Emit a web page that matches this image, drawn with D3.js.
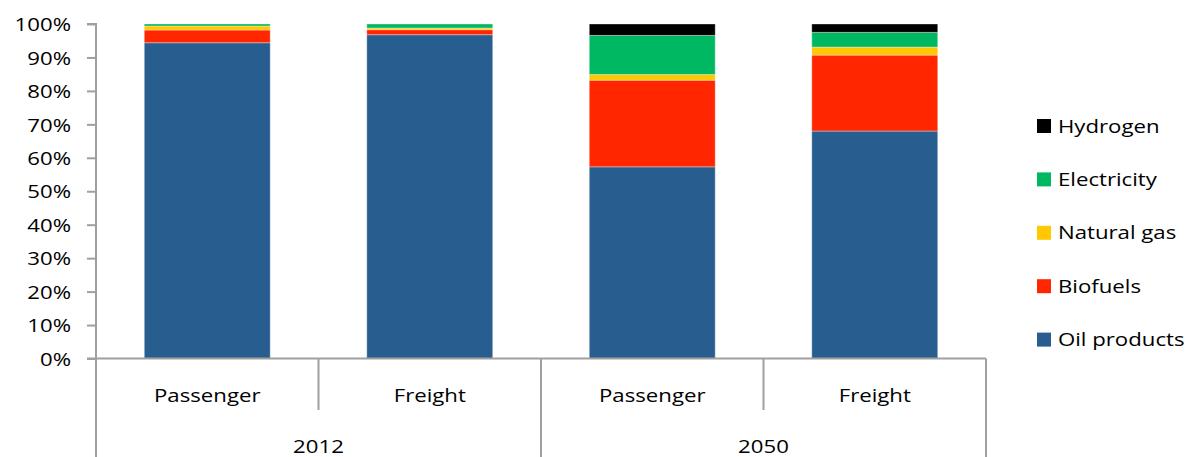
<!DOCTYPE html>
<html>
<head>
<meta charset="utf-8">
<script src="https://cdn.jsdelivr.net/npm/d3@7"></script>
<style>
  html, body { margin: 0; padding: 0; background: #fff; }
  svg { display: block; }
  text { font-family: "Open Sans", "Noto Sans", sans-serif; fill: #000; }
</style>
</head>
<body>
<svg id="chart" width="1191" height="457"></svg>
<script>
// Transport final energy mix, share by fuel (%)
const years = ["2012", "2050"];
const modes = ["Passenger", "Freight"];
const seriesNames = ["Oil products", "Biofuels", "Natural gas", "Electricity", "Hydrogen"];
const seriesColors = ["#285e8f", "#ff2600", "#ffc800", "#00b862", "#000000"];

// One value per bar: 2012 Passenger, 2012 Freight, 2050 Passenger, 2050 Freight
const oilProducts = [94.4, 96.8, 57.3, 68.0];
const biofuels    = [3.8, 1.5, 25.9, 22.7];
const naturalGas  = [1.2, 0.5, 1.7, 2.4];
const electricity = [0.6, 1.2, 11.7, 4.4];
const hydrogen    = [0.0, 0.0, 3.4, 2.5];

const yTicks = [0, 10, 20, 30, 40, 50, 60, 70, 80, 90, 100];

const bars = [];
years.forEach(yr => modes.forEach(m => bars.push({ key: yr + "|" + m, year: yr, mode: m })));
const seriesValues = [oilProducts, biofuels, naturalGas, electricity, hydrogen];
bars.forEach((b, i) => seriesNames.forEach((s, j) => { b[s] = seriesValues[j][i]; }));

const svg = d3.select("#chart");
const plotLeft = 96, plotRight = 986, plotTop = 24, plotBottom = 358.5;
const fontSize = "18.5px";
const sx = 1.2; // horizontal widening of the label glyphs

const x = d3.scaleBand().domain(bars.map(b => b.key)).range([plotLeft, plotRight])
  .paddingInner(0.434).paddingOuter(0.217);
const xCat = d3.scaleBand().domain(bars.map(b => b.key)).range([plotLeft, plotRight]).padding(0);
const xYear = d3.scaleBand().domain(years).range([plotLeft, plotRight]).padding(0);
const y = d3.scaleLinear().domain([0, 100]).range([plotBottom, plotTop]);
const color = d3.scaleOrdinal().domain(seriesNames).range(seriesColors);

const stacked = d3.stack().keys(seriesNames)(bars);

// Stacked bars
svg.append("g").selectAll("g").data(stacked).join("g")
  .attr("fill", d => color(d.key))
  .selectAll("rect").data(d => d.filter(p => p[1] - p[0] > 0)).join("rect")
  .attr("x", d => x(d.data.key))
  .attr("width", x.bandwidth())
  .attr("y", d => y(d[1]))
  .attr("height", d => y(d[0]) - y(d[1]))
  .attr("stroke", "#ffffff")
  .attr("stroke-opacity", 0.35)
  .attr("stroke-width", 1);

const axisColor = "#a0a0a0";

// Y axis
const yAxis = svg.append("g").attr("transform", `translate(${plotLeft},0)`)
  .call(d3.axisLeft(y).tickValues(yTicks).tickFormat(d => d + "%").tickSize(9).tickPadding(16));
yAxis.select(".domain").attr("stroke", axisColor).attr("stroke-width", 2)
  .attr("d", `M-9,${y(100)}H0V${y(0)}`);
yAxis.selectAll(".tick line").attr("stroke", axisColor).attr("stroke-width", 2);
yAxis.selectAll(".tick text")
  .style("font-size", fontSize).attr("fill", "#000").attr("dy", "0.36em")
  .attr("x", -25 / sx).attr("transform", `scale(${sx},1)`);

// X axis baseline
svg.append("line")
  .attr("x1", plotLeft - 9).attr("x2", plotRight).attr("y1", y(0)).attr("y2", y(0))
  .attr("stroke", axisColor).attr("stroke-width", 2);

// Separators between modes (short) and years (full height)
const sepG = svg.append("g").attr("stroke", axisColor).attr("stroke-width", 2);
bars.forEach(b => {
  const xe = xCat(b.key) + xCat.bandwidth();
  if (b.mode === "Passenger") {
    sepG.append("line").attr("x1", xe).attr("x2", xe).attr("y1", y(0)).attr("y2", 410);
  }
});
years.forEach((yr, i) => {
  const xs = xYear(yr);
  sepG.append("line").attr("x1", xs).attr("x2", xs).attr("y1", y(0)).attr("y2", 457);
  if (i === years.length - 1) {
    const xe = xs + xYear.bandwidth();
    sepG.append("line").attr("x1", xe).attr("x2", xe).attr("y1", y(0)).attr("y2", 457);
  }
});

// Category labels
svg.append("g").selectAll("text").data(bars).join("text")
  .attr("transform", d => `translate(${xCat(d.key) + xCat.bandwidth() / 2},402) scale(${sx},1)`)
  .attr("text-anchor", "middle")
  .style("font-size", fontSize)
  .text(d => d.mode);

svg.append("g").selectAll("text").data(years).join("text")
  .attr("transform", d => `translate(${xYear(d) + xYear.bandwidth() / 2},453) scale(${sx},1)`)
  .attr("text-anchor", "middle")
  .style("font-size", fontSize)
  .text(d => d);

// Legend (top to bottom: Hydrogen ... Oil products)
const legendOrder = seriesNames.slice().reverse();
const legend = svg.append("g").selectAll("g").data(legendOrder).join("g")
  .attr("transform", (d, i) => `translate(1037,${126 + i * 53.4})`);
legend.append("rect").attr("x", 0).attr("y", -7).attr("width", 14).attr("height", 14)
  .attr("fill", d => color(d));
legend.append("text")
  .attr("transform", `translate(21,0) scale(${sx},1)`)
  .attr("dy", "0.36em")
  .style("font-size", fontSize).text(d => d);
</script>
</body>
</html>
